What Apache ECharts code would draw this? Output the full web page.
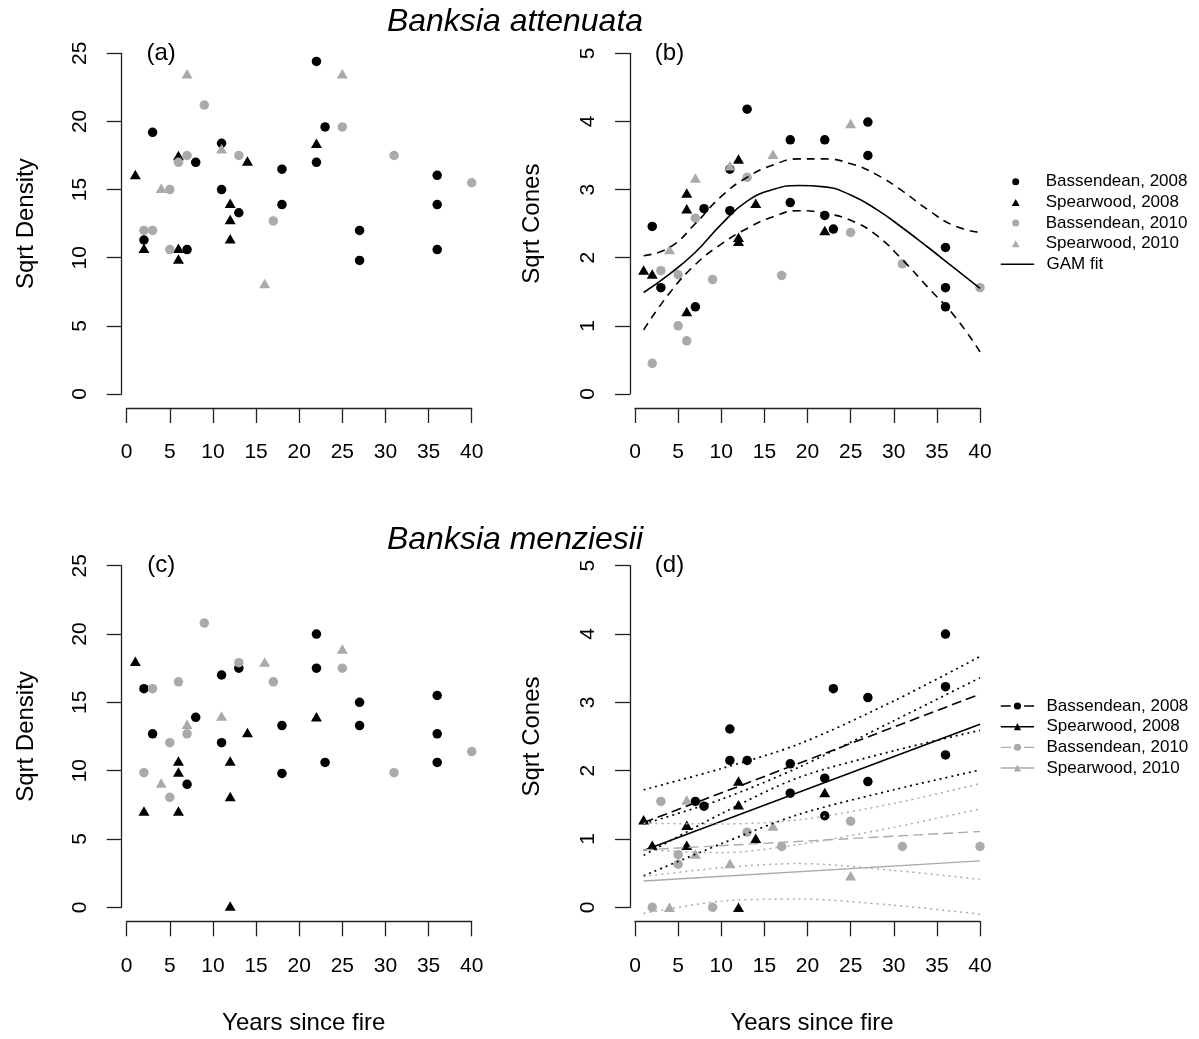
<!DOCTYPE html>
<html><head><meta charset="utf-8">
<script src="https://cdn.jsdelivr.net/npm/echarts@6/dist/echarts.min.js"></script>
<style>html,body{margin:0;padding:0;background:#fff}#c{width:1199px;height:1039px}</style>
</head><body><div id="c"></div>
<script>
// ---------- data ----------
const yearTicks = [0, 5, 10, 15, 20, 25, 30, 35, 40];
const densityTicks = [0, 5, 10, 15, 20, 25];
const conesTicks = [0, 1, 2, 3, 4, 5];
const groupNames = ['Bassendean, 2008', 'Spearwood, 2008', 'Bassendean, 2010', 'Spearwood, 2010'];
const panelLabels = ['(a)', '(b)', '(c)', '(d)'];
const speciesTitles = ['Banksia attenuata', 'Banksia menziesii'];

// (a) B. attenuata, sqrt density
const aBass08 = [[22,24.4],[3,19.2],[23,19.6],[11,18.4],[8,17.0],[22,17.0],[18,16.5],[36,16.05],[11,15.0],[18,13.9],[36,13.9],[13,13.3],[27,12.0],[2,11.3],[7,10.6],[36,10.6],[27,9.8]];
const aSpear08 = [[1,16.1],[6,17.5],[14,17.1],[22,18.4],[12,14.0],[12,12.8],[12,11.4],[2,10.7],[6,10.7],[6,9.9]];
const aBass10 = [[9,21.2],[25,19.6],[7,17.5],[6,17.0],[13,17.5],[31,17.5],[5,15.0],[40,15.5],[2,12.0],[3,12.0],[5,10.6],[17,12.7]];
const aSpear10 = [[7,23.5],[25,23.5],[11,18.0],[4,15.1],[16,8.1]];

// (b) B. attenuata, sqrt cones
const bBass08 = [[13,4.18],[27,3.99],[18,3.73],[22,3.73],[27,3.50],[11,3.30],[2,2.46],[8,2.72],[11,2.69],[18,2.81],[22,2.62],[23,2.42],[36,2.15],[3,1.56],[36,1.56],[7,1.28],[36,1.28]];
const bSpear08 = [[12,3.45],[6,2.95],[6,2.72],[14,2.80],[12,2.30],[12,2.24],[22,2.40],[1,1.82],[2,1.76],[6,1.21]];
const bBass10 = [[13,3.18],[7,2.58],[25,2.37],[31,1.91],[3,1.81],[5,1.75],[9,1.68],[17,1.74],[40,1.56],[5,1.00],[6,0.78],[2,0.45]];
const bSpear10 = [[25,3.97],[16,3.52],[11,3.35],[7,3.17],[4,2.12]];
const bGamFit = [[1,1.49],[4,1.76],[7,2.08],[10,2.49],[13,2.83],[16,3.00],[19,3.06],[22,3.04],[25,2.92],[28,2.71],[31,2.44],[34,2.15],[37,1.85],[40,1.55]];
const bGamUpper = [[1,2.03],[4,2.15],[7,2.50],[10,2.90],[13,3.18],[16,3.36],[19,3.45],[22,3.45],[25,3.38],[28,3.22],[31,2.98],[34,2.70],[37,2.47],[40,2.37]];
const bGamLower = [[1,0.94],[4,1.48],[7,1.90],[10,2.20],[13,2.43],[16,2.60],[19,2.69],[22,2.65],[25,2.55],[28,2.33],[31,1.97],[34,1.56],[37,1.15],[40,0.62]];

// (c) B. menziesii, sqrt density
const cBass08 = [[22,20.0],[22,17.5],[13,17.5],[11,17.0],[2,16.0],[27,15.0],[36,15.5],[8,13.9],[18,13.3],[27,13.3],[3,12.7],[36,12.7],[11,12.05],[23,10.6],[36,10.6],[18,9.8],[7,9.0]];
const cSpear08 = [[1,18.0],[22,13.95],[14,12.8],[12,10.7],[6,10.7],[6,9.9],[12,8.1],[2,7.05],[6,7.05],[12,0.1]];
const cBass10 = [[9,20.8],[13,17.9],[25,17.5],[6,16.5],[17,16.5],[3,16.0],[7,12.7],[5,12.05],[40,11.4],[2,9.85],[31,9.85],[5,8.05]];
const cSpear10 = [[25,18.9],[16,17.95],[11,14.0],[7,13.4],[4,9.1]];

// (d) B. menziesii, sqrt cones
const dBass08 = [[36,4.0],[36,3.23],[23,3.2],[27,3.07],[11,2.61],[11,2.15],[13,2.15],[18,2.10],[18,1.67],[7,1.55],[8,1.48],[36,2.23],[22,1.89],[27,1.84],[22,1.34]];
const dSpear08 = [[12,1.85],[12,1.50],[1,1.28],[6,1.20],[2,0.91],[6,0.91],[14,1.01],[12,0.0],[22,1.68]];
const dBass10 = [[3,1.55],[13,1.10],[17,0.89],[5,0.77],[5,0.63],[2,0.0],[9,0.0],[25,1.26],[31,0.89],[40,0.89]];
const dSpear10 = [[6,1.57],[16,1.19],[7,0.78],[11,0.64],[4,0.0],[25,0.46]];
const dFitB08 = [[1,1.24],[40,3.12]];
const dFitS08 = [[1,0.83],[40,2.68]];
const dFitB10 = [[1,0.84],[40,1.11]];
const dFitS10 = [[1,0.385],[40,0.68]];
const dUpB08 = [[1,1.72],[10,2.03],[19,2.39],[30,3.02],[40,3.67]];
const dLoB08 = [[1,0.76],[10,1.37],[19,1.90],[30,2.29],[40,2.59]];
const dUpS08 = [[1,1.22],[10,1.58],[19,2.05],[30,2.73],[40,3.36]];
const dLoS08 = [[1,0.46],[10,0.93],[19,1.36],[30,1.72],[40,2.01]];
const dUpB10 = [[1,1.23],[10,1.22],[19,1.28],[30,1.52],[40,1.81]];
const dLoB10 = [[1,0.45],[10,0.58],[19,0.64],[30,0.54],[40,0.41]];
const dUpS10 = [[1,0.84],[10,0.80],[19,0.92],[30,1.17],[40,1.44]];
const dLoS10 = [[1,-0.09],[10,0.09],[19,0.12],[30,0.03],[40,-0.10]];

// ---------- styling ----------
const FONT = '"Liberation Sans", Arial, Helvetica, sans-serif';
const BLACK = '#000000';
const GRAY = '#aaaaaa';
const AXIS = '#222222';
const grids = [
  {left: 126.7, top: 53.3, width: 345, height: 340.7},
  {left: 635, top: 53.3, width: 345, height: 340.7},
  {left: 126.7, top: 565.7, width: 345, height: 341.6},
  {left: 635, top: 565.7, width: 345, height: 341.6}
];

function xAxis(i, name) {
  return {
    gridIndex: i, type: 'value', min: yearTicks[0], max: yearTicks[yearTicks.length - 1],
    interval: yearTicks[1] - yearTicks[0], offset: 14,
    axisLine: {show: true, onZero: false, lineStyle: {color: AXIS, width: 1.3}},
    axisTick: {show: true, length: 15, lineStyle: {color: AXIS, width: 1.3}},
    splitLine: {show: false},
    axisLabel: {fontSize: 21, fontFamily: FONT, color: BLACK, margin: 34, lineHeight: 21},
    name: name || '', nameLocation: 'middle', nameGap: 102,
    nameTextStyle: {fontSize: 24, fontFamily: FONT, color: BLACK, verticalAlign: 'middle', padding: [0, 0, 0, 9]}
  };
}
function yAxis(i, ticks, name, gap) {
  return {
    gridIndex: i, type: 'value', min: ticks[0], max: ticks[ticks.length - 1],
    interval: ticks[1] - ticks[0], offset: 5,
    axisLine: {show: true, onZero: false, lineStyle: {color: AXIS, width: 1.3}},
    axisTick: {show: true, length: 15, lineStyle: {color: AXIS, width: 1.3}},
    splitLine: {show: false},
    axisLabel: {fontSize: 21, fontFamily: FONT, color: BLACK, margin: 31, rotate: 90, lineHeight: 21},
    name: name, nameLocation: 'middle', nameGap: gap,
    nameTextStyle: {fontSize: 24, fontFamily: FONT, color: BLACK, verticalAlign: 'middle'}
  };
}
function pts(name, data, i, tri, color) {
  return {
    type: 'scatter', name: name, data: data, xAxisIndex: i, yAxisIndex: i,
    symbol: tri ? 'triangle' : 'circle', symbolSize: tri ? [11, 9.5] : 9.5,
    itemStyle: {color: color, opacity: 1}, clip: false, silent: true, z: 3
  };
}
function line(name, data, i, color, type, width, smooth, symbol) {
  return {
    type: 'line', name: name, data: data, xAxisIndex: i, yAxisIndex: i,
    symbol: symbol || 'none', showSymbol: false, smooth: smooth,
    lineStyle: {color: color, type: type, width: width},
    itemStyle: {color: color, opacity: 1}, clip: false, silent: true, z: 4
  };
}
function panelLabel(i, ticks) {
  return {
    type: 'scatter', data: [[4, ticks[ticks.length - 1]]], xAxisIndex: i, yAxisIndex: i,
    symbolSize: 1, itemStyle: {color: 'rgba(0,0,0,0)', opacity: 1}, silent: true, clip: false,
    label: {show: true, position: 'inside', formatter: panelLabels[i], fontSize: 24, fontFamily: FONT, color: BLACK, opacity: 1}
  };
}

const series = [];
const panelsPts = [
  [aBass08, aSpear08, aBass10, aSpear10],
  [bBass08, bSpear08, bBass10, bSpear10],
  [cBass08, cSpear08, cBass10, cSpear10],
  [dBass08, dSpear08, dBass10, dSpear10]
];
panelsPts.forEach(function (p, i) {
  series.push(pts(groupNames[0], p[0], i, false, BLACK));
  series.push(pts(groupNames[1], p[1], i, true, BLACK));
  series.push(pts(groupNames[2], p[2], i, false, GRAY));
  series.push(pts(groupNames[3], p[3], i, true, GRAY));
});
series.push(line('GAM fit', bGamFit, 1, BLACK, 'solid', 1.6, 0.5));
series.push(line('GAM upper', bGamUpper, 1, BLACK, [8, 6], 1.6, 0.5));
series.push(line('GAM lower', bGamLower, 1, BLACK, [8, 6], 1.6, 0.5));

const dashL = [10, 5], dotL = [2, 4];
series.push(line(groupNames[0] + ' ', dFitB08, 3, BLACK, dashL, 1.6, false, 'circle'));
series.push(line(groupNames[1] + ' ', dFitS08, 3, BLACK, 'solid', 1.6, false, 'triangle'));
series.push(line(groupNames[2] + ' ', dFitB10, 3, GRAY, dashL, 1.4, false, 'circle'));
series.push(line(groupNames[3] + ' ', dFitS10, 3, GRAY, 'solid', 1.4, false, 'triangle'));
[dUpB08, dLoB08, dUpS08, dLoS08].forEach(function (d, k) { series.push(line('ci08_' + k, d, 3, BLACK, dotL, 1.7, 0.3)); });
[dUpB10, dLoB10, dUpS10, dLoS10].forEach(function (d, k) { series.push(line('ci10_' + k, d, 3, GRAY, dotL, 1.5, 0.3)); });

series.push(panelLabel(0, densityTicks));
series.push(panelLabel(1, conesTicks));
series.push(panelLabel(2, densityTicks));
series.push(panelLabel(3, conesTicks));

const legendText = {fontSize: 17, fontFamily: FONT, color: BLACK, lineHeight: 20.67};
const option = {
  animation: false,
  backgroundColor: '#ffffff',
  grid: grids,
  xAxis: [xAxis(0), xAxis(1), xAxis(2, 'Years since fire'), xAxis(3, 'Years since fire')],
  yAxis: [
    yAxis(0, densityTicks, 'Sqrt Density', 95),
    yAxis(1, conesTicks, 'Sqrt Cones', 98),
    yAxis(2, densityTicks, 'Sqrt Density', 95),
    yAxis(3, conesTicks, 'Sqrt Cones', 98)
  ],
  legend: [
    {
      data: groupNames.slice(), orient: 'vertical', left: 1011.7, top: 171.4, padding: 0,
      itemWidth: 8, itemHeight: 7, itemGap: 0, selectedMode: false,
      textStyle: Object.assign({padding: [0, 0, 0, 21]}, legendText)
    },
    {
      data: [{name: 'GAM fit', itemStyle: {color: 'rgba(0,0,0,0)', borderColor: 'rgba(0,0,0,0)', opacity: 0}, lineStyle: {color: BLACK, width: 1.6}}],
      orient: 'vertical', left: 1000, top: 264.3 - 10.33, padding: 0,
      itemWidth: 33.3, itemHeight: 7, itemGap: 0, selectedMode: false,
      textStyle: Object.assign({padding: [0, 0, 0, 7.4]}, legendText)
    },
    {
      data: [
        {name: groupNames[0] + ' ', lineStyle: {type: [10, 13.3], width: 1.6}},
        {name: groupNames[1] + ' ', lineStyle: {width: 1.6}},
        {name: groupNames[2] + ' ', lineStyle: {type: [10, 13.3], width: 1.4}},
        {name: groupNames[3] + ' ', lineStyle: {width: 1.4}}
      ],
      orient: 'vertical', left: 1000, top: 706 - 10.33, padding: 0,
      itemWidth: 33.3, itemHeight: 9, itemGap: 0, selectedMode: false,
      textStyle: Object.assign({padding: [0, 0, 0, 7.4]}, legendText)
    }
  ],
  graphic: [
    {type: 'text', x: 515, y: 22, silent: true, style: {text: speciesTitles[0], align: 'center', verticalAlign: 'middle', font: 'italic 32px ' + FONT, fill: BLACK}},
    {type: 'text', x: 515, y: 540, silent: true, style: {text: speciesTitles[1], align: 'center', verticalAlign: 'middle', font: 'italic 32px ' + FONT, fill: BLACK}}
  ],
  series: series
};
const chart = echarts.init(document.getElementById('c'), null, {renderer: 'canvas'});
chart.setOption(option);
</script>
</body></html>
